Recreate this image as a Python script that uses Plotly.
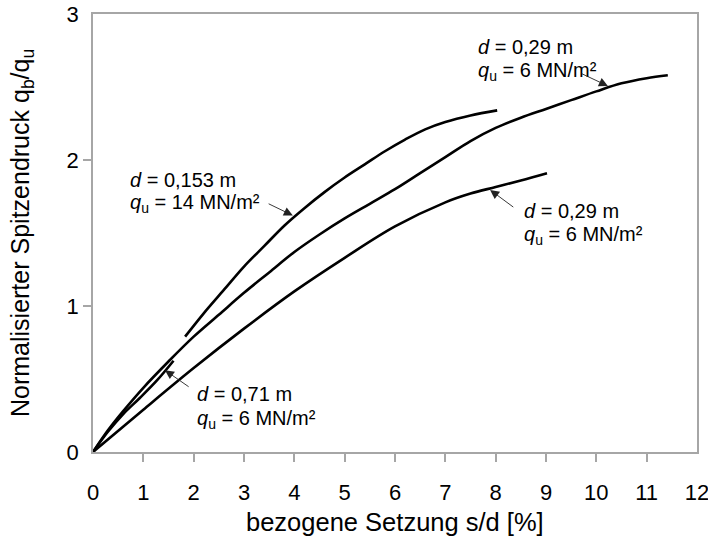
import plotly.graph_objects as go

# Normalised base pressure q_b/q_u versus relative settlement s/d [%]
# d = 0,153 m, q_u = 14 MN/m²
s_a = [1.83, 2.2, 2.6, 3.0, 3.4, 3.8, 4.2, 4.6, 5.0, 5.4, 5.8, 6.2, 6.6, 7.0, 7.5, 8.03]
q_a = [0.79, 0.95, 1.11, 1.27, 1.41, 1.55, 1.67, 1.78, 1.88, 1.97, 2.06, 2.14, 2.21, 2.26, 2.305, 2.34]

# d = 0,29 m, q_u = 6 MN/m² (upper curve)
s_b = [0, 0.3, 0.6, 1.0, 1.5, 2.0, 2.5, 3.0, 3.5, 4.0, 4.5, 5.0, 5.5, 6.0, 6.5, 7.0,
       7.5, 8.0, 8.5, 9.0, 9.5, 10.0, 10.5, 11.0, 11.42]
q_b = [0, 0.15, 0.28, 0.44, 0.62, 0.79, 0.94, 1.09, 1.23, 1.37, 1.49, 1.60, 1.70, 1.80, 1.91, 2.02,
       2.13, 2.22, 2.29, 2.35, 2.41, 2.47, 2.525, 2.56, 2.58]

# d = 0,29 m, q_u = 6 MN/m² (lower curve)
s_c = [0, 1.0, 2.0, 3.0, 4.0, 5.0, 6.0, 7.0, 7.5, 8.0, 8.5, 9.02]
q_c = [0, 0.29, 0.575, 0.845, 1.10, 1.33, 1.545, 1.71, 1.77, 1.815, 1.86, 1.91]

# d = 0,71 m, q_u = 6 MN/m²
s_d = [0, 0.3, 0.6, 0.93, 1.27, 1.6]
q_d = [0, 0.14, 0.26, 0.37, 0.49, 0.625]

x_ticks = list(range(0, 13))
y_ticks = [0, 1, 2, 3]

FONT = "Arial, 'Liberation Sans', sans-serif"
GRID = "#a6a6a6"

fig = go.Figure()
for xs, ys in [(s_a, q_a), (s_b, q_b), (s_c, q_c), (s_d, q_d)]:
    fig.add_trace(go.Scatter(
        x=xs, y=ys, mode="lines",
        line=dict(color="black", width=2.6, shape="spline", smoothing=1.0),
        showlegend=False, hoverinfo="skip",
    ))

# curve labels (two lines each)
labels = [
    (0.70, 1.863, 1.705, "0,153", "14"),
    (7.61, 2.774, 2.603, "0,29", "6"),
    (8.52, 1.651, 1.486, "0,29", "6"),
    (2.03, 0.397, 0.226, "0,71", "6"),
]
for lx, y1, y2, dval, qval in labels:
    fig.add_annotation(x=lx, y=y1, xref="x", yref="y", showarrow=False,
                       xanchor="left", yanchor="middle",
                       text=f"<i>d</i> = {dval} m",
                       font=dict(family=FONT, size=20, color="black"))
    fig.add_annotation(x=lx, y=y2, xref="x", yref="y", showarrow=False,
                       xanchor="left", yanchor="middle",
                       text=f"<i>q</i><sub>u</sub> = {qval} MN/m²",
                       font=dict(family=FONT, size=20, color="black"))

# leader arrows from labels to curves
arrows = [
    ((3.46, 1.705), (3.97, 1.62)),
    ((9.68, 2.596), (10.23, 2.507)),
    ((8.38, 1.67), (7.89, 1.795)),
    ((1.93, 0.44), (1.43, 0.56)),
]
for (tx, ty), (hx, hy) in arrows:
    fig.add_annotation(x=hx, y=hy, ax=tx, ay=ty, xref="x", yref="y",
                       axref="x", ayref="y", text="", showarrow=True,
                       arrowhead=2, arrowsize=2.0, arrowwidth=0.9,
                       arrowcolor="#222222")

# axis titles
fig.add_annotation(x=0.5, y=-0.16, xref="paper", yref="paper", showarrow=False,
                   xanchor="center", yanchor="middle",
                   text="bezogene Setzung s/d [%]",
                   font=dict(family=FONT, size=25.5, color="black"))
fig.add_annotation(x=-0.1175, y=0.5, xref="paper", yref="paper", showarrow=False,
                   xanchor="center", yanchor="middle", textangle=-90,
                   text="Normalisierter Spitzendruck q<sub>b</sub>/q<sub>u</sub>",
                   font=dict(family=FONT, size=25, color="black"))

fig.update_layout(
    width=708, height=539, autosize=False,
    margin=dict(l=93, r=11, t=14, b=87),
    paper_bgcolor="white", plot_bgcolor="white",
    font=dict(family=FONT, color="black"),
)
fig.update_xaxes(
    range=[0, 12], tickvals=x_ticks, ticktext=[str(v) for v in x_ticks],
    automargin=False, showgrid=False, zeroline=False,
    showline=True, linecolor=GRID, linewidth=1.6, mirror=True,
    ticks="outside", ticklen=8, tickcolor="rgba(0,0,0,0)",
    minor=dict(tickvals=x_ticks[1:-1], ticks="outside", ticklen=8,
               tickcolor=GRID, tickwidth=1.6, showgrid=False),
    ticklabelstandoff=12, ticklabeloverflow="allow",
    tickfont=dict(family=FONT, size=22, color="black"),
)
fig.update_yaxes(
    range=[0, 3], tickvals=y_ticks, ticktext=[str(v) for v in y_ticks],
    automargin=False, showgrid=False, zeroline=False,
    showline=True, linecolor=GRID, linewidth=1.6, mirror=True,
    ticks="outside", ticklen=8, tickcolor="rgba(0,0,0,0)",
    minor=dict(tickvals=[1, 2], ticks="outside", ticklen=8,
               tickcolor=GRID, tickwidth=1.6, showgrid=False),
    ticklabeloverflow="allow",
    tickfont=dict(family=FONT, size=22, color="black"),
)

fig.write_html("out.html")
